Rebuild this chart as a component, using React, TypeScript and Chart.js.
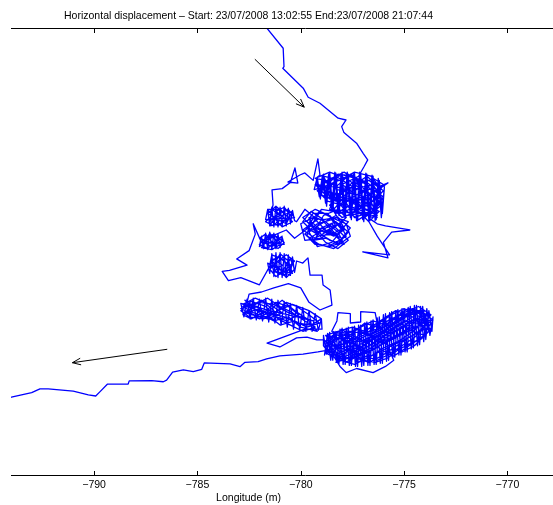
import React, { useEffect, useRef } from "react";
import { Chart, registerables } from "chart.js";

Chart.register(...registerables);

const TITLE = "Horizontal displacement \u2013 Start: 23/07/2008 13:02:55 End:23/07/2008 21:07:44";
const X_LABEL = "Longitude (m)";
const X_TICKS = [-790, -785, -780, -775, -770];
const X_MIN = -794.02;
const X_MAX = -765.52;
const Y_MIN = 0;
const Y_MAX = 21.67;

// Track segments, [longitude (m), latitude (m)], in time order
const headPath = [
  [-781.75, 21.8], [-780.85, 20.69], [-780.81, 19.8], [-780.87, 19.72], [-779.88, 18.76],
  [-779.64, 18.32], [-779.07, 18.03], [-778.19, 17.31], [-777.81, 17.22], [-778.02, 16.9],
  [-777.91, 16.61], [-777.3, 16.1], [-776.98, 15.61], [-776.76, 15.29], [-776.94, 14.96],
  [-777.17, 14.56],
];

const clusterA1 = [
  [-777.2, 14.5], [-778.0, 14.1], [-777.3, 13.6], [-778.4, 13.9], [-777.6, 14.6], [-776.7, 14.0],
  [-777.5, 13.2], [-776.6, 12.8], [-777.4, 12.5], [-777.9, 13.4], [-778.7, 13.8], [-778.1, 14.6],
  [-777.0, 14.3], [-776.4, 13.6], [-777.2, 12.9], [-776.3, 12.5], [-776.9, 13.5], [-777.8, 13.0],
  [-778.5, 13.5], [-779.1, 14.0], [-778.3, 14.5], [-777.5, 14.0], [-776.8, 14.5], [-776.1, 13.9],
  [-776.6, 13.2], [-777.6, 12.7], [-778.2, 12.9], [-777.7, 13.7], [-778.8, 14.3], [-779.3, 14.4],
  [-778.6, 14.7], [-777.8, 14.4], [-777.0, 13.8], [-776.2, 13.3], [-776.5, 12.5], [-777.3, 12.8],
  [-778.0, 12.5], [-778.6, 13.1], [-778.0, 13.8], [-777.2, 14.1], [-776.5, 14.4], [-776.0, 14.1],
  [-776.7, 13.6], [-777.4, 13.4], [-778.3, 13.3], [-779.0, 13.6], [-778.9, 14.2], [-777.9, 14.7],
  [-777.3, 14.3], [-776.9, 13.1], [-776.2, 12.8], [-776.6, 12.4], [-776.3, 12.2],
];

const excursionEast = [
  [-775.9, 12.1], [-774.72, 11.9], [-775.6, 11.8], [-776.0, 11.3], [-775.78, 10.55],
  [-777.0, 10.84], [-775.7, 10.7], [-776.3, 11.6], [-776.7, 12.3],
];

const clusterA2 = [
  [-777.1, 12.7], [-777.8, 12.6], [-778.4, 12.9], [-777.9, 13.5], [-777.1, 13.2], [-776.4, 13.1],
  [-776.1, 13.7], [-776.8, 14.2], [-777.6, 14.5], [-778.4, 14.2], [-779.2, 13.8], [-778.7, 13.3],
  [-778.0, 13.1], [-777.3, 13.6], [-776.6, 13.9], [-776.0, 13.5], [-776.4, 12.9], [-777.2, 12.4],
  [-777.9, 12.9], [-778.5, 13.7], [-778.9, 14.5], [-778.1, 14.3], [-777.4, 14.7], [-776.6, 14.5],
  [-776.2, 14.0], [-775.78, 14.18], [-776.9, 13.4], [-777.7, 13.3], [-778.6, 13.4], [-779.3, 14.1],
  [-778.5, 14.0], [-777.7, 13.9], [-776.8, 13.8], [-776.1, 13.1], [-776.7, 12.6], [-777.5, 12.9],
  [-778.2, 13.5], [-777.5, 14.2], [-776.7, 14.3], [-776.0, 13.8], [-776.5, 13.3], [-777.4, 13.0],
  [-778.1, 12.7], [-778.6, 12.9], [-778.3, 13.7], [-777.6, 13.5], [-776.9, 12.9], [-776.3, 12.6],
  [-776.8, 13.7], [-777.4, 14.5], [-778.2, 14.6], [-778.9, 13.9], [-778.2, 13.4], [-777.3, 13.9],
  [-776.5, 14.1], [-776.0, 13.3], [-776.9, 12.5], [-777.6, 13.1], [-778.3, 12.7], [-778.8, 14.0],
];

const clusterA3 = [
  [-779.35, 13.85], [-779.2, 14.45], [-779.05, 13.4], [-778.9, 14.6], [-778.75, 13.05], [-778.6, 14.7],
  [-778.45, 12.8], [-778.3, 14.65], [-778.15, 12.6], [-778.0, 14.7], [-777.85, 12.45], [-777.7, 14.6],
  [-777.55, 12.4], [-777.4, 14.7], [-777.25, 12.35], [-777.1, 14.65], [-776.95, 12.3], [-776.8, 14.6],
  [-776.65, 12.35], [-776.5, 14.5], [-776.35, 12.4], [-776.2, 14.3], [-776.05, 12.7], [-775.95, 14.0],
  [-776.1, 12.5], [-776.25, 14.4], [-776.4, 12.35], [-776.55, 14.55], [-776.7, 12.3], [-776.85, 14.65],
  [-777.0, 12.4], [-777.15, 14.7], [-777.3, 12.35], [-777.45, 14.6], [-777.6, 12.5], [-777.75, 14.7],
  [-777.9, 12.55], [-778.05, 14.6], [-778.2, 12.7], [-778.35, 14.7], [-778.5, 12.9], [-778.65, 14.6],
  [-778.8, 13.2], [-778.95, 14.55], [-779.1, 13.5], [-779.25, 14.4], [-779.07, 14.56],
];

const excursionWest = [
  [-779.17, 15.34], [-779.4, 14.3], [-779.8, 14.66], [-780.04, 14.56], [-780.62, 14.22],
  [-780.14, 14.17], [-780.28, 14.9], [-780.5, 14.2], [-780.9, 13.9], [-781.39, 13.84],
  [-781.34, 13.11],
];

const clusterC = [
  [-781.4, 12.9], [-781.0, 12.6], [-781.5, 12.4], [-781.1, 12.1], [-780.7, 12.4], [-781.2, 12.8],
  [-780.8, 13.0], [-780.5, 12.6], [-780.9, 12.3], [-781.4, 12.6], [-781.7, 12.3], [-781.3, 12.1],
  [-780.9, 12.6], [-780.4, 12.8], [-780.7, 12.2], [-781.1, 12.4], [-781.6, 12.7], [-781.2, 13.05],
  [-780.8, 12.7], [-780.4, 12.3], [-780.9, 12.05], [-781.3, 12.5], [-781.6, 12.9], [-781.0, 12.9],
  [-780.6, 12.5], [-781.0, 12.2], [-781.5, 12.1], [-781.2, 12.6], [-780.6, 12.9], [-780.3, 12.5],
  [-781.7, 12.4], [-781.6, 12.9], [-781.5, 12.1], [-781.4, 13.0], [-781.3, 12.05], [-781.2, 13.05],
  [-781.1, 12.05], [-781.0, 13.0], [-780.9, 12.1], [-780.8, 13.05], [-780.7, 12.1], [-780.6, 12.95],
  [-780.5, 12.2], [-780.4, 12.85], [-780.3, 12.35], [-780.2, 12.3],
];

const clusterB = [
  [-779.8, 12.9], [-779.2, 12.4], [-779.9, 11.9], [-779.3, 11.5], [-778.6, 11.9], [-778.1, 11.4],
  [-778.7, 11.1], [-779.4, 11.3], [-779.0, 12.0], [-778.3, 12.3], [-777.7, 11.8], [-778.2, 11.2],
  [-778.9, 11.6], [-779.6, 12.2], [-779.1, 12.8], [-778.5, 12.5], [-777.8, 12.2], [-777.6, 11.6],
  [-778.4, 11.0], [-779.1, 11.2], [-779.7, 11.6], [-779.5, 12.6], [-778.8, 12.3], [-778.2, 11.8],
  [-777.9, 11.2], [-778.6, 11.4], [-779.3, 11.9], [-778.9, 12.6], [-778.2, 12.9], [-777.8, 12.5],
  [-778.4, 12.0], [-779.0, 11.5], [-779.8, 11.4], [-780.0, 12.2], [-779.4, 12.5], [-778.7, 11.8],
  [-778.0, 11.5], [-777.6, 12.0], [-778.3, 12.6], [-779.0, 12.2], [-779.6, 11.8], [-779.2, 11.1],
  [-778.5, 11.3], [-778.0, 11.9], [-778.6, 12.6], [-779.3, 12.9], [-779.9, 12.5], [-779.4, 12.0],
  [-778.8, 11.3], [-778.2, 11.0], [-777.7, 11.4], [-778.5, 12.2], [-779.2, 11.7], [-779.7, 12.0],
  [-779.5, 12.3], [-778.9, 11.8], [-778.3, 12.1], [-778.7, 12.7], [-779.4, 12.7], [-779.7, 12.3],
  [-779.1, 11.9], [-778.4, 11.6], [-777.9, 11.9], [-778.5, 12.4], [-779.2, 12.2], [-779.8, 11.7],
  [-779.4, 11.4], [-778.8, 11.5], [-778.3, 11.3], [-777.8, 11.6], [-778.1, 12.2], [-778.8, 12.0],
  [-779.5, 11.9], [-779.9, 12.3], [-779.5, 12.8], [-778.9, 12.4], [-778.3, 12.5], [-777.7, 12.3],
  [-778.2, 11.7], [-778.9, 11.9], [-779.6, 11.5], [-779.3, 11.2], [-778.6, 11.1], [-778.0, 11.3],
  [-778.4, 11.8], [-779.0, 12.4], [-779.6, 12.5], [-779.2, 11.6], [-778.5, 11.7], [-777.9, 12.0],
  [-778.4, 12.8], [-779.0, 12.9], [-779.5, 12.1], [-780.3, 11.5],
];

const clusterD = [
  [-780.7, 11.9], [-781.4, 11.6], [-781.8, 11.3], [-781.4, 11.1], [-781.0, 11.3], [-781.3, 11.7],
  [-781.7, 11.5], [-782.0, 11.2], [-781.6, 11.0], [-781.2, 11.4], [-780.9, 11.6], [-781.3, 11.2],
  [-781.7, 11.7], [-782.0, 11.5], [-781.5, 11.3], [-781.1, 11.0], [-780.8, 11.3], [-781.2, 11.6],
  [-781.6, 11.45], [-781.9, 11.05], [-781.4, 10.95], [-781.0, 11.2], [-781.5, 11.75], [-781.8, 11.2],
  [-782.0, 11.1], [-781.9, 11.6], [-781.8, 11.0], [-781.7, 11.75], [-781.6, 10.95], [-781.5, 11.8],
  [-781.4, 10.95], [-781.3, 11.75], [-781.2, 11.0], [-781.1, 11.7], [-781.0, 11.05], [-780.9, 11.55],
  [-780.8, 11.2], [-781.9, 11.3],
];

const westLoops = [
  [-782.3, 12.2], [-782.2, 11.7], [-782.5, 10.9], [-783.1, 10.5], [-782.6, 10.2], [-783.45, 9.95],
  [-783.8, 9.9], [-783.5, 9.45], [-782.9, 9.6], [-782.4, 9.4], [-782.0, 9.25],
];

const clusterE = [
  [-781.3, 10.5], [-780.9, 10.2], [-781.3, 9.9], [-780.8, 9.7], [-780.5, 10.1], [-780.9, 10.5],
  [-781.4, 10.7], [-781.5, 10.2], [-781.1, 9.8], [-780.7, 10.0], [-780.3, 10.4], [-780.7, 10.7],
  [-781.1, 10.4], [-781.5, 10.0], [-781.2, 9.65], [-780.8, 9.9], [-780.4, 9.8], [-780.6, 10.4],
  [-781.0, 10.75], [-781.3, 10.2], [-780.9, 9.9], [-780.5, 10.5], [-780.3, 10.0], [-780.7, 9.6],
  [-781.0, 10.0], [-781.4, 10.4], [-781.1, 10.6], [-780.6, 10.25], [-780.5, 9.7],
  [-781.6, 10.3], [-781.5, 9.8], [-781.4, 10.75], [-781.3, 9.65], [-781.2, 10.8], [-781.1, 9.6],
  [-781.0, 10.8], [-780.9, 9.6], [-780.8, 10.75], [-780.7, 9.65], [-780.6, 10.7], [-780.5, 9.7],
  [-780.4, 10.6], [-780.3, 9.85], [-780.2, 10.4],
];

const wanderSouth = [
  [-779.9, 10.3], [-779.65, 10.55], [-779.55, 9.72], [-778.97, 9.72], [-778.92, 9.24],
  [-778.58, 9.0], [-778.49, 8.27], [-779.07, 8.03], [-779.6, 8.4], [-780.0, 9.1], [-780.6, 9.3],
  [-781.3, 9.1], [-781.9, 8.9], [-782.5, 8.8],
];

const clusterF = [
  [-782.6, 8.4], [-781.9, 8.1], [-782.7, 7.9], [-782.0, 7.7], [-781.3, 8.0], [-781.9, 8.5],
  [-782.5, 8.2], [-782.9, 8.1], [-782.3, 7.8], [-781.6, 7.6], [-780.9, 7.9], [-781.5, 8.3],
  [-782.2, 8.6], [-782.8, 8.3], [-782.1, 8.0], [-781.4, 7.8], [-780.7, 7.5], [-780.1, 7.8],
  [-780.6, 8.2], [-781.2, 8.4], [-781.8, 7.9], [-782.4, 7.6], [-782.8, 7.8], [-782.2, 8.3],
  [-781.6, 8.6], [-781.0, 8.2], [-780.4, 7.9], [-779.8, 7.5], [-779.3, 7.2], [-779.9, 7.0],
  [-780.5, 7.3], [-781.1, 7.6], [-781.7, 8.2], [-782.4, 8.45], [-782.9, 8.0], [-782.5, 7.7],
  [-781.8, 7.6], [-781.2, 7.9], [-780.7, 8.4], [-780.2, 8.2], [-779.6, 7.8], [-779.1, 7.4],
  [-779.7, 7.2], [-780.3, 7.5], [-781.0, 7.3], [-781.5, 7.7], [-782.1, 8.2], [-782.6, 8.0],
  [-782.0, 7.6], [-781.4, 8.1], [-780.9, 8.5], [-780.3, 8.0], [-779.7, 7.6], [-779.2, 7.0],
  [-780.0, 7.2], [-780.6, 7.7], [-781.3, 7.5], [-781.9, 7.8], [-782.7, 8.5], [-782.3, 8.1],
  [-781.6, 7.9], [-780.8, 7.7], [-780.2, 7.4], [-779.5, 7.3], [-779.0, 7.6], [-779.6, 8.0],
  [-780.4, 8.3], [-781.1, 8.0], [-781.7, 7.7], [-782.3, 7.9], [-782.8, 8.2], [-782.0, 8.4],
  [-781.3, 8.3], [-780.6, 7.9], [-780.0, 7.7], [-779.4, 7.5],
  [-782.9, 8.35], [-782.75, 7.7], [-782.6, 8.55], [-782.45, 7.6], [-782.3, 8.6], [-782.15, 7.55],
  [-782.0, 8.55], [-781.85, 7.5], [-781.7, 8.6], [-781.55, 7.45], [-781.4, 8.55], [-781.25, 7.4],
  [-781.1, 8.5], [-780.95, 7.3], [-780.8, 8.45], [-780.65, 7.2], [-780.5, 8.35], [-780.35, 7.1],
  [-780.2, 8.25], [-780.05, 7.05], [-779.9, 8.15], [-779.75, 7.0], [-779.6, 8.0], [-779.45, 7.0],
  [-779.3, 7.85], [-779.15, 7.05], [-779.0, 7.6], [-778.97, 7.1], [-779.8, 7.1],
];

const wanderBelowF = [
  [-781.63, 6.43], [-781.01, 6.24], [-780.2, 6.68], [-779.7, 6.72], [-779.22, 6.58], [-778.9, 6.6],
];

const clusterG = [
  [-778.3, 6.2], [-777.6, 6.6], [-777.0, 6.1], [-776.4, 6.5], [-775.8, 6.9], [-775.2, 7.3],
  [-774.6, 7.7], [-774.0, 7.4], [-773.7, 7.8], [-774.3, 8.2], [-775.0, 7.9], [-775.6, 7.5],
  [-776.1, 7.1], [-776.7, 6.8], [-777.3, 7.1], [-777.9, 6.8], [-778.5, 6.4], [-778.7, 5.9],
  [-778.1, 5.6], [-777.4, 5.4], [-776.8, 5.7], [-776.2, 6.0], [-775.6, 6.3], [-775.0, 6.6],
  [-774.4, 6.9], [-773.8, 7.2], [-774.1, 7.9], [-774.8, 8.1], [-775.4, 7.7], [-775.9, 7.3],
  [-776.5, 7.5], [-777.1, 7.2], [-777.7, 6.9], [-778.4, 6.8], [-778.8, 6.2], [-778.2, 5.8],
  [-777.6, 6.1], [-777.0, 5.6], [-776.4, 5.5], [-775.8, 5.7], [-775.3, 6.1], [-774.7, 6.4],
  [-774.1, 6.7], [-773.7, 7.4], [-774.2, 7.7], [-774.8, 7.3], [-775.4, 7.0], [-776.0, 6.6],
  [-776.6, 6.2], [-777.2, 5.9], [-777.8, 5.5], [-778.4, 5.9], [-778.1, 6.5], [-777.5, 6.8],
  [-776.9, 6.5], [-776.3, 6.9], [-775.7, 7.2], [-775.1, 7.6], [-774.5, 8.0], [-773.9, 7.6],
  [-774.4, 7.2], [-775.0, 6.9], [-775.6, 6.6], [-776.2, 6.3], [-776.8, 6.0], [-777.4, 6.3],
  [-778.0, 6.0], [-778.6, 6.7], [-778.0, 7.1], [-777.4, 6.6], [-776.8, 6.9], [-776.2, 7.4],
  [-775.6, 7.8], [-775.0, 8.1], [-774.4, 7.8], [-773.8, 7.4], [-774.3, 7.0], [-774.9, 6.6],
  [-775.5, 6.2], [-776.1, 5.8], [-776.7, 5.5], [-777.3, 5.7], [-777.9, 6.3], [-778.5, 6.1],
  [-778.2, 5.6], [-777.6, 5.9], [-777.0, 6.3], [-776.4, 6.7], [-775.8, 7.0], [-775.2, 7.4],
  [-774.6, 7.0], [-774.0, 6.8], [-773.7, 7.1], [-774.2, 7.5], [-774.8, 7.8], [-775.4, 8.0],
  [-776.0, 7.6], [-776.6, 7.2], [-777.2, 6.8], [-777.8, 6.4], [-778.4, 6.3], [-778.8, 6.8],
  [-778.2, 7.0], [-777.5, 7.2], [-776.9, 7.0], [-776.3, 6.6], [-775.7, 6.3], [-775.1, 6.0],
  [-774.5, 6.3], [-773.9, 6.9], [-774.1, 7.6], [-774.7, 7.5], [-775.3, 7.1], [-775.9, 6.8],
  [-776.5, 6.4], [-777.1, 6.1], [-777.7, 5.7], [-778.3, 5.5], [-777.9, 5.9], [-777.3, 6.5],
  [-776.7, 6.6], [-776.1, 6.1], [-775.5, 5.8], [-774.9, 6.2], [-774.3, 6.6], [-773.8, 7.0],
  [-774.0, 7.8], [-774.6, 8.1], [-775.2, 7.8], [-775.8, 7.5], [-776.4, 7.0], [-777.0, 6.7],
  [-777.6, 6.4], [-778.2, 6.7], [-778.7, 6.4], [-778.1, 6.2], [-777.5, 6.0], [-776.9, 5.8],
  [-776.3, 5.6], [-775.7, 5.9], [-775.1, 6.3], [-774.5, 6.7], [-774.0, 7.2], [-774.5, 7.6],
  [-775.1, 7.2], [-775.7, 6.9], [-776.3, 7.2], [-776.9, 7.4], [-777.5, 6.9], [-778.0, 6.6],
  [-777.4, 6.0], [-776.8, 6.4], [-776.2, 6.8], [-775.6, 7.1], [-775.0, 7.5], [-774.4, 7.4],
  [-773.6, 7.55], [-774.2, 8.0], [-774.9, 7.7], [-775.5, 7.3], [-776.1, 6.9], [-776.7, 5.9],
  [-777.2, 5.5], [-777.8, 6.1], [-778.5, 5.8], [-778.9, 6.3],
];

const clusterG2 = [
  [-778.9, 6.8], [-778.75, 5.9], [-778.6, 6.95], [-778.45, 5.6], [-778.3, 7.0], [-778.15, 5.45],
  [-778.0, 7.15], [-777.85, 5.4], [-777.7, 7.2], [-777.55, 5.35], [-777.4, 7.25], [-777.25, 5.3],
  [-777.1, 7.3], [-776.95, 5.35], [-776.8, 7.45], [-776.65, 5.35], [-776.5, 7.55], [-776.35, 5.4],
  [-776.2, 7.7], [-776.05, 5.45], [-775.9, 7.85], [-775.75, 5.6], [-775.6, 7.95], [-775.45, 5.75],
  [-775.3, 8.05], [-775.15, 5.85], [-775.0, 8.1], [-774.85, 6.0], [-774.7, 8.2], [-774.55, 6.2],
  [-774.4, 8.25], [-774.25, 6.35], [-774.1, 8.2], [-773.95, 6.6], [-773.8, 8.0], [-773.65, 7.0],
  [-773.6, 7.7], [-773.75, 6.8], [-773.9, 8.1], [-774.05, 6.5], [-774.2, 8.2], [-774.35, 6.3],
  [-774.5, 8.25], [-774.65, 6.15], [-774.8, 8.15], [-774.95, 6.0], [-775.1, 8.1], [-775.25, 5.85],
  [-775.4, 8.0], [-775.55, 5.7], [-775.7, 7.9], [-775.85, 5.55], [-776.0, 7.8], [-776.15, 5.45],
  [-776.3, 7.65], [-776.45, 5.4], [-776.6, 7.5], [-776.75, 5.35], [-776.9, 7.4], [-777.05, 5.3],
  [-777.2, 7.3], [-777.35, 5.3], [-777.5, 7.2], [-777.65, 5.35], [-777.8, 7.15], [-777.95, 5.4],
  [-778.1, 7.1], [-778.25, 5.5], [-778.4, 7.0], [-778.55, 5.6], [-778.7, 6.9], [-778.85, 5.85],
];

const clusterG3 = [
  [-778.6, 6.5], [-778.0, 5.9], [-777.3, 6.2], [-776.6, 5.8], [-776.0, 6.2], [-775.3, 6.5],
  [-774.7, 6.9], [-774.2, 7.3], [-774.6, 7.9], [-775.3, 7.6], [-775.9, 7.1], [-776.5, 6.8],
  [-777.1, 6.5], [-777.8, 6.7], [-778.4, 6.6], [-778.6, 6.0], [-777.9, 5.7], [-777.2, 5.8],
  [-776.5, 6.1], [-775.9, 6.5], [-775.3, 6.8], [-774.6, 7.2], [-773.9, 7.3], [-774.3, 7.9],
  [-775.0, 7.7], [-775.7, 7.3], [-776.3, 7.1], [-777.0, 6.9], [-777.6, 7.0], [-778.3, 6.9],
  [-778.8, 6.5], [-778.3, 6.0], [-777.6, 5.6], [-776.9, 6.0], [-776.3, 6.4], [-775.6, 6.7],
  [-775.0, 7.0], [-774.4, 7.5], [-774.0, 8.0], [-774.7, 8.0], [-775.4, 7.4], [-776.0, 7.0],
  [-776.6, 6.6], [-777.3, 6.3], [-777.9, 6.6], [-778.5, 7.0],
];

const loopsAroundG = [
  [-778.25, 7.5], [-778.2, 7.9], [-777.6, 7.85], [-777.6, 7.4], [-777.1, 7.45], [-777.1, 7.95],
  [-776.4, 7.9], [-776.3, 7.4], [-775.5, 5.6], [-775.9, 5.3], [-776.5, 5.0], [-777.3, 5.2],
  [-777.8, 5.0], [-778.1, 5.3], [-778.6, 6.1],
];

const tailPath = [
  [-779.17, 6.0], [-779.89, 5.9], [-781.01, 5.81], [-781.65, 5.66], [-782.06, 5.53],
  [-782.7, 5.5], [-782.94, 5.29], [-783.42, 5.42], [-784.67, 5.47], [-784.79, 5.16],
  [-785.2, 5.05], [-785.68, 5.13], [-786.2, 5.02], [-786.49, 4.64], [-786.65, 4.56],
  [-787.21, 4.61], [-788.3, 4.6], [-788.35, 4.45], [-789.36, 4.44], [-789.71, 4.08],
  [-789.92, 3.87], [-790.28, 3.92], [-791.01, 4.11], [-792.22, 4.21], [-792.62, 4.21],
  [-793.02, 4.03], [-794.0, 3.81], [-794.5, 3.7],
];

// Direction arrows: [start, end] in [longitude, latitude]
const arrowIn = [[-782.22, 20.16], [-779.83, 17.84]];
const arrowOut = [[-786.46, 6.13], [-791.05, 5.48]];

const track = [
  ...headPath, ...clusterA1, ...excursionEast, ...clusterA2, ...clusterA3, ...excursionWest,
  ...clusterC, ...clusterB, ...clusterD, ...westLoops, ...clusterE, ...wanderSouth, ...clusterF,
  ...wanderBelowF, ...clusterG, ...clusterG2, ...clusterG3, ...loopsAroundG, ...tailPath,
];

const FONT = '"Liberation Sans", Arial, Helvetica, sans-serif';

const decorPlugin = {
  id: "decor",
  afterDatasetsDraw(chart: any) {
    const { ctx, chartArea: a, scales } = chart;
    const x = scales.x;
    const y = scales.y;
    ctx.save();
    ctx.strokeStyle = "#000";
    ctx.lineWidth = 1;
    ctx.beginPath();
    ctx.moveTo(a.left, Math.round(a.top) + 0.5);
    ctx.lineTo(a.right, Math.round(a.top) + 0.5);
    ctx.moveTo(a.left, Math.round(a.bottom) - 0.5);
    ctx.lineTo(a.right, Math.round(a.bottom) - 0.5);
    for (const v of X_TICKS) {
      const px = Math.round(x.getPixelForValue(v)) + 0.5;
      ctx.moveTo(px, a.top);
      ctx.lineTo(px, a.top + 5);
      ctx.moveTo(px, a.bottom);
      ctx.lineTo(px, a.bottom - 5);
    }
    ctx.stroke();

    const drawArrow = (arr: number[][]) => {
      const x0 = x.getPixelForValue(arr[0][0]);
      const y0 = y.getPixelForValue(arr[0][1]);
      const x1 = x.getPixelForValue(arr[1][0]);
      const y1 = y.getPixelForValue(arr[1][1]);
      const ang = Math.atan2(y1 - y0, x1 - x0);
      const len = 9;
      const spread = 0.38;
      ctx.beginPath();
      ctx.moveTo(x0, y0);
      ctx.lineTo(x1, y1);
      ctx.moveTo(x1 - len * Math.cos(ang - spread), y1 - len * Math.sin(ang - spread));
      ctx.lineTo(x1, y1);
      ctx.lineTo(x1 - len * Math.cos(ang + spread), y1 - len * Math.sin(ang + spread));
      ctx.stroke();
    };
    ctx.strokeStyle = "#000";
    ctx.lineWidth = 1;
    drawArrow(arrowIn);
    drawArrow(arrowOut);

    ctx.fillStyle = "#000";
    ctx.font = `10.5px ${FONT}`;
    ctx.textAlign = "center";
    ctx.textBaseline = "middle";
    ctx.fillText(TITLE, 248.5, 16.5);
    ctx.fillText(X_LABEL, 248.5, 498);
    ctx.restore();
  },
};

export default function App() {
  const ref = useRef<HTMLCanvasElement | null>(null);
  useEffect(() => {
    if (!ref.current) return;
    const chart = new Chart(ref.current, {
      type: "scatter",
      data: {
        datasets: [
          {
            data: track.map(([lon, lat]) => ({ x: lon, y: lat })),
            showLine: true,
            borderColor: "#0000ff",
            backgroundColor: "#0000ff",
            borderWidth: 1.3,
            borderJoinStyle: "round",
            borderCapStyle: "round",
            pointRadius: 0,
            tension: 0,
          },
        ],
      },
      options: {
        animation: false,
        responsive: false,
        devicePixelRatio: 1,
        layout: { padding: { left: 11, top: 28, right: 0, bottom: 0 } },
        plugins: { legend: { display: false }, tooltip: { enabled: false }, title: { display: false } },
        scales: {
          x: {
            type: "linear",
            min: X_MIN,
            max: X_MAX,
            afterBuildTicks: (s: any) => {
              s.ticks = X_TICKS.map((v) => ({ value: v }));
            },
            afterFit: (s: any) => {
              s.height = 29;
            },
            grid: { display: false, drawTicks: false },
            border: { display: false },
            ticks: {
              padding: 3,
              color: "#000",
              font: { family: FONT, size: 10.5 },
              maxRotation: 0,
              autoSkip: false,
              callback: (v: any) => String(v).replace("-", "\u2212"),
            },
          },
          y: { type: "linear", display: false, min: Y_MIN, max: Y_MAX },
        },
      },
      plugins: [decorPlugin],
    });
    return () => chart.destroy();
  }, []);
  return (
    <div style={{ position: "absolute", left: 0, top: 0, width: 553, height: 505, overflow: "hidden", background: "#fff" }}>
      <canvas ref={ref} width={600} height={505} style={{ display: "block", width: 600, height: 505 }} />
    </div>
  );
}
